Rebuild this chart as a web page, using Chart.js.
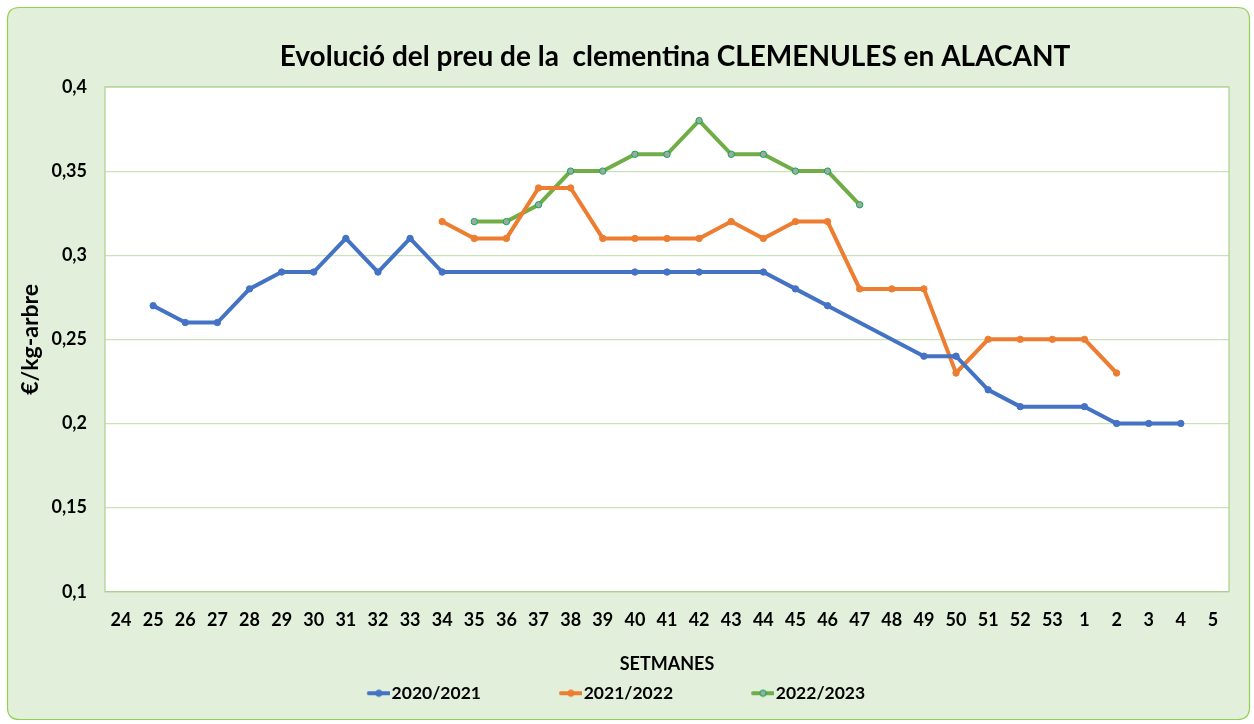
<!DOCTYPE html>
<html>
<head>
<meta charset="utf-8">
<script src="https://cdn.jsdelivr.net/npm/chart.js@4.4.1/dist/chart.umd.min.js"></script>
<style>
  html, body { margin: 0; padding: 0; background: #ffffff; }
  #wrap { position: relative; width: 1254px; height: 724px; }
</style>
</head>
<body>
<div id="wrap"><canvas id="c" width="1254" height="724"></canvas></div>
<script>
const weeks = ['24','25','26','27','28','29','30','31','32','33','34','35','36','37','38','39','40','41','42','43','44','45','46','47','48','49','50','51','52','53','1','2','3','4','5'];
const s2020 = [null,0.27,0.26,0.26,0.28,0.29,0.29,0.31,0.29,0.31,0.29,null,null,null,null,null,0.29,0.29,0.29,null,0.29,0.28,0.27,null,null,0.24,0.24,0.22,0.21,null,0.21,0.20,0.20,0.20,null];
const s2021 = [null,null,null,null,null,null,null,null,null,null,0.32,0.31,0.31,0.34,0.34,0.31,0.31,0.31,0.31,0.32,0.31,0.32,0.32,0.28,0.28,0.28,0.23,0.25,0.25,0.25,0.25,0.23,null,null,null];
const s2022 = [null,null,null,null,null,null,null,null,null,null,null,0.32,0.32,0.33,0.35,0.35,0.36,0.36,0.38,0.36,0.36,0.35,0.35,0.33,null,null,null,null,null,null,null,null,null,null,null];
const seriesNames = ['2020/2021','2021/2022','2022/2023'];
const yTicks = [0.1,0.15,0.2,0.25,0.3,0.35,0.4];

const FONT = "Lato, 'Open Sans', sans-serif";
const BLUE = '#4472c4', ORANGE = '#ed7d31', GREEN = '#70ad47';

const ICON_W = 84;
const ICON_OVER = 7;
function legendIcon(color, fill, border) {
  const cv = document.createElement('canvas');
  const W = ICON_W + 2 * ICON_OVER;
  cv.width = W; cv.height = 10;
  const x = cv.getContext('2d');
  const x0 = W - 21, x1 = W - 1;
  x.strokeStyle = color; x.lineWidth = 4; x.lineCap = 'round';
  x.beginPath(); x.moveTo(x0, 5); x.lineTo(x1, 5); x.stroke();
  x.beginPath(); x.arc((x0 + x1) / 2, 5, 3.2, 0, Math.PI * 2);
  x.fillStyle = fill; x.fill();
  x.lineWidth = 1; x.strokeStyle = border; x.stroke();
  return cv;
}
const icons = [legendIcon(BLUE, BLUE, BLUE), legendIcon(ORANGE, ORANGE, ORANGE), legendIcon(GREEN, '#a5a5a5', '#00b050')];

const bgPlugin = {
  id: 'bg',
  beforeDraw(chart) {
    const ctx = chart.ctx;
    ctx.save();
    const x = 7.5, y = 7.5, w = 1242, h = 712, r = 12;
    ctx.beginPath();
    ctx.moveTo(x + r, y);
    ctx.lineTo(x + w - r, y); ctx.quadraticCurveTo(x + w, y, x + w, y + r);
    ctx.lineTo(x + w, y + h - r); ctx.quadraticCurveTo(x + w, y + h, x + w - r, y + h);
    ctx.lineTo(x + r, y + h); ctx.quadraticCurveTo(x, y + h, x, y + h - r);
    ctx.lineTo(x, y + r); ctx.quadraticCurveTo(x, y, x + r, y);
    ctx.closePath();
    ctx.fillStyle = '#e2efda'; ctx.fill();
    ctx.lineWidth = 1.2; ctx.strokeStyle = '#92d050'; ctx.stroke();
    const a = chart.chartArea;
    ctx.fillStyle = '#ffffff';
    ctx.fillRect(a.left, a.top, a.right - a.left, a.bottom - a.top);
    ctx.restore();
  }
};
const borderPlugin = {
  id: 'areaBorder',
  beforeDatasetsDraw(chart) {
    const ctx = chart.ctx, a = chart.chartArea;
    ctx.save();
    ctx.strokeStyle = '#a9d18e'; ctx.lineWidth = 1.2;
    ctx.strokeRect(a.left, a.top, a.right - a.left, a.bottom - a.top);
    ctx.restore();
  }
};
const LEGEND_SHIFT = -41;
const TITLE_SHIFT = 52;
const shiftPlugin = {
  id: 'shift',
  afterLayout(chart) {
    const lg = chart.legend;
    if (lg) { lg.left += LEGEND_SHIFT; lg.right += LEGEND_SHIFT; }
    const t = chart.titleBlock;
    if (t) { t.left += TITLE_SHIFT; t.right += TITLE_SHIFT; }
  }
};

new Chart(document.getElementById('c'), {
  type: 'line',
  data: {
    labels: weeks,
    datasets: [
      { label: seriesNames[0], data: s2020, borderColor: BLUE, backgroundColor: BLUE, pointBackgroundColor: BLUE, pointBorderColor: BLUE, borderWidth: 4, pointRadius: 3.2, pointBorderWidth: 1, spanGaps: true, tension: 0 },
      { label: seriesNames[1], data: s2021, borderColor: ORANGE, backgroundColor: ORANGE, pointBackgroundColor: ORANGE, pointBorderColor: ORANGE, borderWidth: 4, pointRadius: 3.2, pointBorderWidth: 1, spanGaps: true, tension: 0 },
      { label: seriesNames[2], data: s2022, borderColor: GREEN, backgroundColor: GREEN, pointBackgroundColor: '#a5a5a5', pointBorderColor: '#00b050', borderWidth: 4, pointRadius: 3.2, pointBorderWidth: 1, spanGaps: true, tension: 0 }
    ]
  },
  options: {
    responsive: false,
    animation: false,
    devicePixelRatio: 1,
    layout: { padding: { left: 17, right: 25, top: 40, bottom: 12 } },
    plugins: {
      title: {
        display: true,
        text: 'Evolució del preu de la  clementina CLEMENULES en ALACANT',
        color: '#000000',
        fullSize: true,
        font: { family: FONT, size: 28, weight: 'bold' },
        padding: { top: 0, bottom: 13.4 }
      },
      legend: {
        position: 'bottom',
        fullSize: true,
        labels: {
          usePointStyle: true,
          pointStyleWidth: ICON_W,
          padding: 10,
          color: '#000000',
          font: { family: FONT, size: 17.5, weight: 'bold' },
          generateLabels(chart) {
            return chart.data.datasets.map((d, i) => ({
              text: d.label, pointStyle: icons[i], fillStyle: d.borderColor, strokeStyle: d.borderColor,
              lineWidth: 0, hidden: false, datasetIndex: i, fontColor: '#000000'
            }));
          }
        }
      },
      tooltip: { enabled: false }
    },
    scales: {
      x: {
        type: 'category',
        offset: true,
        grid: { display: false, drawTicks: false },
        border: { display: false },
        ticks: { color: '#000000', font: { family: FONT, size: 18, weight: 'bold' }, padding: 18, maxRotation: 0, autoSkip: false },
        title: { display: true, text: 'SETMANES', color: '#000000', font: { family: FONT, size: 18, weight: 'bold' }, padding: { top: 3.6, bottom: 0 } }
      },
      y: {
        min: 0.1, max: 0.4,
        afterBuildTicks(scale) { scale.ticks = yTicks.map(v => ({ value: v })); },
        afterFit(scale) { scale.width = 88; },
        grid: { color: '#c9e2b8', lineWidth: 1.2, drawTicks: false },
        border: { display: false },
        ticks: {
          color: '#000000', font: { family: FONT, size: 18, weight: 'bold' }, padding: 18,
          callback: v => String(Math.round(v * 100) / 100).replace('.', ',')
        },
        title: { display: true, text: '€/kg-arbre', color: '#000000', font: { family: FONT, size: 23, weight: 'bold' }, padding: { top: 0, bottom: 4 } }
      }
    }
  },
  plugins: [bgPlugin, borderPlugin, shiftPlugin]
});
</script>
</body>
</html>
